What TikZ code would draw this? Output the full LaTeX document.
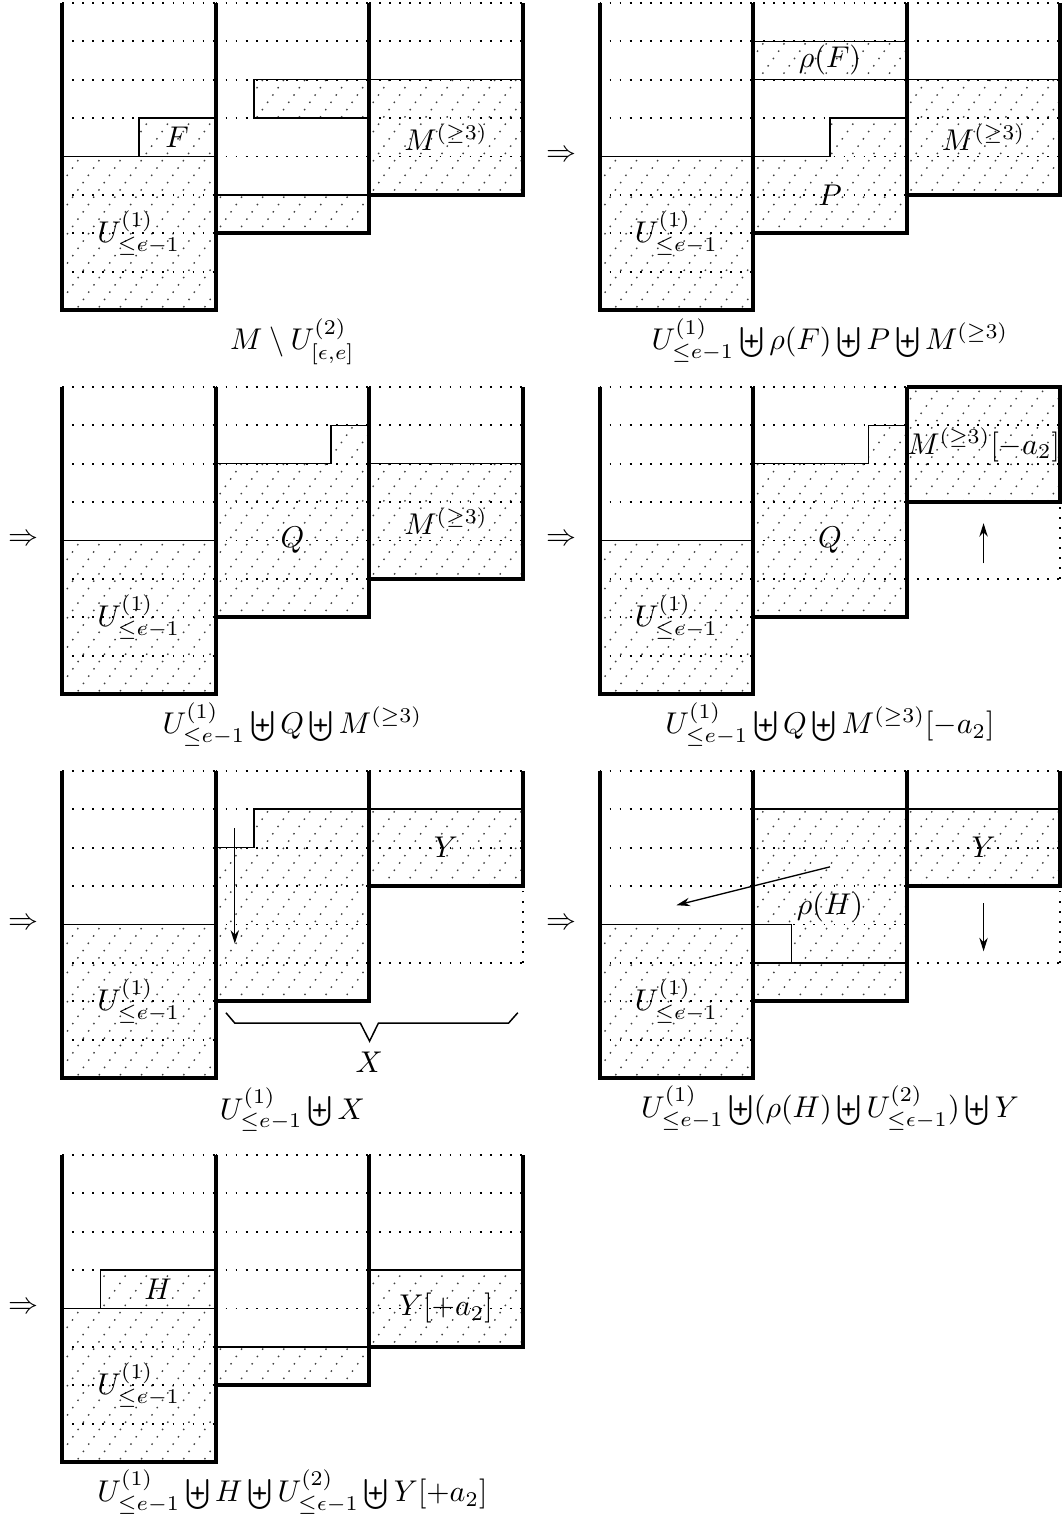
\documentclass[tikz,border=0pt]{standalone}
\usetikzlibrary{arrows.meta}
\tikzset{
  thk/.style={line width=1.3pt, line join=miter},
  thn/.style={line width=0.5pt},
  gridl/.style={line width=0.6pt, dash pattern=on 0.6pt off 2.75pt},
  hatchl/.style={line width=0.45pt, dash pattern=on 0.5pt off 2.5pt, black!75},
  lbl/.style={inner sep=0pt},
  captext/.style={anchor=base, inner sep=0pt},
  arr/.style={-{Stealth[length=4.5pt,width=2.8pt]}, line width=0.45pt},
}
\newcommand\hatchit[1]{\begin{scope}\clip #1;\foreach \k in {-15,...,23}{\draw[hatchl] (\k*0.55,-0.5) -- ++(7.2,10);}\end{scope}}
\begin{document}
\begin{tikzpicture}[x=0.45cm,y=0.45cm]
\useasboundingbox (-1.615,-1.745) rectangle (26.04,38.075);

% ---------- Panel 1 ----------
\begin{scope}[shift={(0,30)}]
\hatchit{(0,0) rectangle (4,4)}
\hatchit{(2,4) rectangle (4,5)}
\hatchit{(4,2) rectangle (8,3)}
\hatchit{(5,5) rectangle (8,6)}
\hatchit{(8,3) rectangle (12,6)}
\foreach \r in {1,...,8} \draw[gridl] (0,\r) -- (4,\r);
\foreach \r in {3,...,8} \draw[gridl] (4,\r) -- (8,\r);
\foreach \r in {4,...,8} \draw[gridl] (8,\r) -- (12,\r);
\draw[thn] (0,4) -- (4,4);
\draw[thn] (2,4) -- (2,5) -- (4,5);
\draw[thn] (4,3) -- (8,3);
\draw[thn] (8,5) -- (5,5) -- (5,6) -- (12,6);
\draw[thk] (0,8) -- (0,0) -- (4,0) -- (4,8);
\draw[thk] (4,2) -- (8,2) -- (8,8);
\draw[thk] (8,3) -- (12,3) -- (12,8);
\node[lbl] (aU) at (2,2) {$U^{(1)}_{\leq e-1}$};
\node[lbl] (aF) at (3,4.5) {$F$};
\node[lbl] (aM) at (10,4.5) {$M^{(\geq 3)}$};
\node[captext] (acap) at (6,-1.03) {$M \setminus U^{(2)}_{[\epsilon,e]}$};
\end{scope}

% ---------- Panel 2 ----------
\begin{scope}[shift={(14,30)}]
\hatchit{(0,0) rectangle (4,4)}
\hatchit{(4,2) -- (8,2) -- (8,5) -- (6,5) -- (6,4) -- (4,4) -- cycle}
\hatchit{(4,6) rectangle (8,7)}
\hatchit{(8,3) rectangle (12,6)}
\foreach \r in {1,...,8} \draw[gridl] (0,\r) -- (4,\r);
\foreach \r in {3,...,8} \draw[gridl] (4,\r) -- (8,\r);
\foreach \r in {4,...,8} \draw[gridl] (8,\r) -- (12,\r);
\draw[thn] (0,4) -- (6,4) -- (6,5) -- (8,5);
\draw[thn] (4,6) -- (12,6);
\draw[thn] (4,7) -- (8,7);
\draw[thk] (0,8) -- (0,0) -- (4,0) -- (4,8);
\draw[thk] (4,2) -- (8,2) -- (8,8);
\draw[thk] (8,3) -- (12,3) -- (12,8);
\node[lbl] (bimp) at (-1,4) {$\Rightarrow$};
\node[lbl] (bU) at (2,2) {$U^{(1)}_{\leq e-1}$};
\node[lbl] (brho) at (6,6.5) {$\rho(F)$};
\node[lbl] (bP) at (6,3) {$P$};
\node[lbl] (bM) at (10,4.5) {$M^{(\geq 3)}$};
\node[captext] (bcap) at (6,-1.03) {$U^{(1)}_{\leq e-1} \biguplus \rho(F) \biguplus P \biguplus M^{(\geq 3)}$};
\end{scope}

% ---------- Panel 3 ----------
\begin{scope}[shift={(0,20)}]
\hatchit{(0,0) rectangle (4,4)}
\hatchit{(4,2) -- (8,2) -- (8,7) -- (7,7) -- (7,6) -- (4,6) -- cycle}
\hatchit{(8,3) rectangle (12,6)}
\foreach \r in {1,...,8} \draw[gridl] (0,\r) -- (4,\r);
\foreach \r in {3,...,8} \draw[gridl] (4,\r) -- (8,\r);
\foreach \r in {4,...,8} \draw[gridl] (8,\r) -- (12,\r);
\draw[thn] (0,4) -- (4,4);
\draw[thn] (4,6) -- (7,6) -- (7,7) -- (8,7);
\draw[thn] (8,6) -- (12,6);
\draw[thk] (0,8) -- (0,0) -- (4,0) -- (4,8);
\draw[thk] (4,2) -- (8,2) -- (8,8);
\draw[thk] (8,3) -- (12,3) -- (12,8);
\node[lbl] (cimp) at (-1,4) {$\Rightarrow$};
\node[lbl] (cU) at (2,2) {$U^{(1)}_{\leq e-1}$};
\node[lbl] (cQ) at (6,4) {$Q$};
\node[lbl] (cM) at (10,4.5) {$M^{(\geq 3)}$};
\node[captext] (ccap) at (6,-1.03) {$U^{(1)}_{\leq e-1} \biguplus Q \biguplus M^{(\geq 3)}$};
\end{scope}

% ---------- Panel 4 ----------
\begin{scope}[shift={(14,20)}]
\hatchit{(0,0) rectangle (4,4)}
\hatchit{(4,2) -- (8,2) -- (8,7) -- (7,7) -- (7,6) -- (4,6) -- cycle}
\hatchit{(8,5) rectangle (12,8)}
\foreach \r in {1,...,8} \draw[gridl] (0,\r) -- (4,\r);
\foreach \r in {3,...,8} \draw[gridl] (4,\r) -- (8,\r);
\foreach \r in {3,6,7} \draw[gridl] (8,\r) -- (12,\r);
\draw[gridl] (12,3) -- (12,5);
\draw[thn] (0,4) -- (4,4);
\draw[thn] (4,6) -- (7,6) -- (7,7) -- (8,7);
\draw[thk] (0,8) -- (0,0) -- (4,0) -- (4,8);
\draw[thk] (4,2) -- (8,2) -- (8,8);
\draw[thk] (8,5) -- (12,5) -- (12,8) -- (8,8);
\coordinate (dA1) at (10,3.4);
\coordinate (dA2) at (10,4.45);
\draw[arr] (dA1) -- (dA2);
\node[lbl] (dimp) at (-1,4) {$\Rightarrow$};
\node[lbl] (dU) at (2,2) {$U^{(1)}_{\leq e-1}$};
\node[lbl] (dQ) at (6,4) {$Q$};
\node[lbl] (dM) at (10,6.5) {$M^{(\geq 3)}[-a_2]$};
\node[captext] (dcap) at (6,-1.03) {$U^{(1)}_{\leq e-1} \biguplus Q \biguplus M^{(\geq 3)}[-a_2]$};
\end{scope}

% ---------- Panel 5 ----------
\begin{scope}[shift={(0,10)}]
\hatchit{(0,0) rectangle (4,4)}
\hatchit{(4,2) -- (8,2) -- (8,7) -- (5,7) -- (5,6) -- (4,6) -- cycle}
\hatchit{(8,5) rectangle (12,7)}
\foreach \r in {1,...,8} \draw[gridl] (0,\r) -- (4,\r);
\foreach \r in {3,...,8} \draw[gridl] (4,\r) -- (8,\r);
\foreach \r in {3,6,8} \draw[gridl] (8,\r) -- (12,\r);
\draw[gridl] (12,3) -- (12,5);
\draw[thn] (0,4) -- (4,4);
\draw[thn] (4,6) -- (5,6) -- (5,7) -- (12,7);
\draw[thk] (0,8) -- (0,0) -- (4,0) -- (4,8);
\draw[thk] (4,2) -- (8,2) -- (8,8);
\draw[thk] (8,5) -- (12,5) -- (12,8);
\coordinate (eA1) at (4.5,6.5);
\coordinate (eA2) at (4.5,3.5);
\draw[arr] (eA1) -- (eA2);
\draw[thn] (4.27,1.70) -- (4.50,1.43) -- (7.77,1.43) -- (8.01,0.96) -- (8.24,1.43) -- (11.63,1.43) -- (11.87,1.70);
\node[lbl] (eimp) at (-1,4) {$\Rightarrow$};
\node[lbl] (eU) at (2,2) {$U^{(1)}_{\leq e-1}$};
\node[lbl] (eY) at (10,6) {$Y$};
\node[lbl] (eX) at (8,0.4) {$X$};
\node[captext] (ecap) at (6,-1.07) {$U^{(1)}_{\leq e-1} \biguplus X$};
\end{scope}

% ---------- Panel 6 ----------
\begin{scope}[shift={(14,10)}]
\hatchit{(0,0) rectangle (4,4)}
\hatchit{(4,2) rectangle (8,3)}
\hatchit{(4,4) -- (5,4) -- (5,3) -- (8,3) -- (8,7) -- (4,7) -- cycle}
\hatchit{(8,5) rectangle (12,7)}
\foreach \r in {1,...,8} \draw[gridl] (0,\r) -- (4,\r);
\foreach \r in {4,...,8} \draw[gridl] (4,\r) -- (8,\r);
\foreach \r in {3,6,8} \draw[gridl] (8,\r) -- (12,\r);
\draw[gridl] (12,3) -- (12,5);
\draw[thn] (0,4) -- (5,4) -- (5,3);
\draw[thn] (4,3) -- (8,3);
\draw[thn] (4,7) -- (12,7);
\draw[thk] (0,8) -- (0,0) -- (4,0) -- (4,8);
\draw[thk] (4,2) -- (8,2) -- (8,8);
\draw[thk] (8,5) -- (12,5) -- (12,8);
\coordinate (fA1) at (6,5.5);
\coordinate (fA2) at (2,4.5);
\draw[arr] (fA1) -- (fA2);
\coordinate (fB1) at (10,4.55);
\coordinate (fB2) at (10,3.3);
\draw[arr] (fB1) -- (fB2);
\node[lbl] (fimp) at (-1,4) {$\Rightarrow$};
\node[lbl] (fU) at (2,2) {$U^{(1)}_{\leq e-1}$};
\node[lbl] (frho) at (6,4.45) {$\rho(H)$};
\node[lbl] (fY) at (10,6) {$Y$};
\node[captext] (fcap) at (6,-1.03) {$U^{(1)}_{\leq e-1} \biguplus (\rho(H) \biguplus U^{(2)}_{\leq \epsilon-1}) \biguplus Y$};
\end{scope}

% ---------- Panel 7 ----------
\begin{scope}[shift={(0,0)}]
\hatchit{(0,0) rectangle (4,4)}
\hatchit{(1,4) rectangle (4,5)}
\hatchit{(4,2) rectangle (8,3)}
\hatchit{(8,3) rectangle (12,5)}
\foreach \r in {1,...,8} \draw[gridl] (0,\r) -- (4,\r);
\foreach \r in {3,...,8} \draw[gridl] (4,\r) -- (8,\r);
\foreach \r in {4,...,8} \draw[gridl] (8,\r) -- (12,\r);
\draw[thn] (0,4) -- (4,4);
\draw[thn] (1,4) -- (1,5) -- (4,5);
\draw[thn] (4,3) -- (8,3);
\draw[thn] (8,5) -- (12,5);
\draw[thk] (0,8) -- (0,0) -- (4,0) -- (4,8);
\draw[thk] (4,2) -- (8,2) -- (8,8);
\draw[thk] (8,3) -- (12,3) -- (12,8);
\node[lbl] (gimp) at (-1,4) {$\Rightarrow$};
\node[lbl] (gU) at (2,2) {$U^{(1)}_{\leq e-1}$};
\node[lbl] (gH) at (2.5,4.5) {$H$};
\node[lbl] (gY) at (10,4) {$Y[+a_2]$};
\node[captext] (gcap) at (6,-1.03) {$U^{(1)}_{\leq e-1} \biguplus H \biguplus U^{(2)}_{\leq \epsilon-1} \biguplus Y[+a_2]$};
\end{scope}
\end{tikzpicture}
\end{document}
